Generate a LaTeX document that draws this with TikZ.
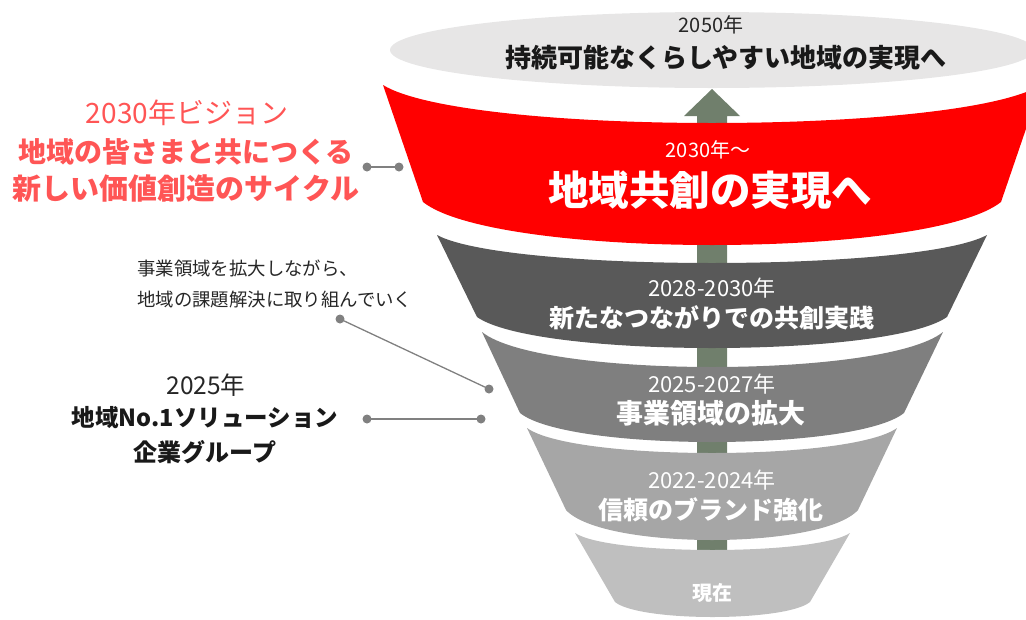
\documentclass[tikz,border=0pt]{standalone}
\usepackage{fontspec}
\setmainfont{Noto Sans CJK JP}
\definecolor{redband}{RGB}{255,0,0}
\definecolor{gA}{RGB}{89,89,89}
\definecolor{gB}{RGB}{127,127,127}
\definecolor{gC}{RGB}{166,166,166}
\definecolor{gD}{RGB}{191,191,191}
\definecolor{ellc}{RGB}{231,230,230}
\definecolor{arrowc}{RGB}{112,127,108}
\definecolor{salmon}{RGB}{255,85,85}
\definecolor{dotc}{RGB}{128,128,128}
\definecolor{darktext}{RGB}{38,38,38}
% #1 colour, #2 x left top, #3 x right top, #4 y top, #5 sag top, #6 x left bottom, #7 x right bottom, #8 y bottom, #9 sag bottom
\newcommand\band[9]{%
  \fill[#1] (#2,#4) .. controls ({#2+0.125*(#3-#2)},{#4+1.3333*#5}) and ({#3-0.125*(#3-#2)},{#4+1.3333*#5}) .. (#3,#4)
  -- (#7,#8) .. controls ({#7-0.125*(#7-#6)},{#8+1.3333*#9}) and ({#6+0.125*(#7-#6)},{#8+1.3333*#9}) .. (#6,#8) -- cycle;}
\tikzset{
  fs/.style={font=\fontsize{#1}{#1}\selectfont},
  yeartxt/.style={text=white, inner sep=0pt, fs=#1},
  bandtxt/.style={text=white, inner sep=0pt, font=\fontsize{#1}{#1}\selectfont\bfseries},
  conn/.style={draw=dotc, line width=1.3pt},
  dot/.style={fill=dotc}
}
\begin{document}
\begin{tikzpicture}[x=1pt,y=-1pt]
\useasboundingbox (0,0) rectangle (1026,619);
\clip (0,0) rectangle (1026,619);
% top ellipse
\fill[ellc] (712,50) ellipse [x radius=322, y radius=38];
% arrow
\fill[arrowc] (697,560) -- (697,116) -- (684,116) -- (712,89) -- (740,116) -- (727,116) -- (727,560) -- cycle;
% bands
\band{redband}{383}{1041}{85}{38}{423}{1001}{202}{43}
\band{gA}{437}{987}{235}{28}{477}{947}{317}{31}
\band{gB}{482}{943}{332}{35}{520}{904}{413}{29}
\band{gC}{527}{897}{428}{25}{566}{858}{510}{30}
\band{gD}{575}{850}{533}{17}{615}{810}{602}{15}
% texts in funnel
\node[inner sep=0pt, text=darktext, fs=20] (y2050) at (711,25) {2050年};
\node[inner sep=0pt, text=black!90, font=\fontsize{26}{26}\selectfont\bfseries] (t2050) at (726,58) {持続可能なくらしやすい地域の実現へ};
\node[yeartxt=20] (y2030) at (708,150) {2030年～};
\node[bandtxt=40.5] (t2030) at (710,190) {地域共創の実現へ};
\node[yeartxt=22] (y2028) at (712,288) {2028-2030年};
\node[bandtxt=25] (t2028) at (712,318) {新たなつながりでの共創実践};
\node[yeartxt=22] (y2025) at (712,384) {2025-2027年};
\node[bandtxt=27] (t2025) at (711,413) {事業領域の拡大};
\node[yeartxt=22] (y2022) at (712,480) {2022-2024年};
\node[bandtxt=25] (t2022) at (711,510) {信頼のブランド強化};
\node[bandtxt=20] (tnow) at (712,593) {現在};
% left texts
\node[inner sep=0pt, text=salmon, fs=28] (v1) at (187,113) {2030年ビジョン};
\node[inner sep=0pt, text=salmon, font=\fontsize{28}{28}\selectfont\bfseries] (v2) at (186,152) {地域の皆さまと共につくる};
\node[inner sep=0pt, text=salmon, font=\fontsize{29}{29}\selectfont\bfseries] (v3) at (186,188) {新しい価値創造のサイクル};
\node[inner sep=0pt, text=darktext, fs=18.4, anchor=west] (d1) at (137,268) {事業領域を拡大しながら、};
\node[inner sep=0pt, text=darktext, fs=18.4, anchor=west] (d2) at (137,300) {地域の課題解決に取り組んでいく};
\node[inner sep=0pt, text=darktext, fs=24.5] (g1) at (206,385) {2025年};
\node[inner sep=0pt, text=black!90, font=\fontsize{23.5}{23.5}\selectfont\bfseries] (g2) at (205,418) {地域No.1ソリューション};
\node[inner sep=0pt, text=black!90, font=\fontsize{24}{24}\selectfont\bfseries] (g3) at (205,452) {企業グループ};
% connectors
\coordinate (c1a) at (367,167);
\coordinate (c1b) at (399,167);
\coordinate (c2a) at (340,319);
\coordinate (c2b) at (489,389);
\coordinate (c3a) at (367,419);
\coordinate (c3b) at (481,419);
\draw[conn] (c1a) -- (c1b);
\draw[conn] (c2a) -- (c2b);
\draw[conn] (c3a) -- (c3b);
\foreach \p in {c1a,c1b,c2a,c2b,c3a,c3b} \fill[dot] (\p) circle (4.5);
\end{tikzpicture}
\end{document}
